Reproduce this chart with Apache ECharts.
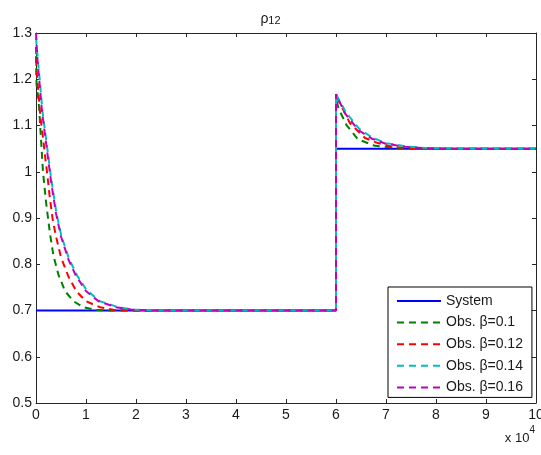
<!DOCTYPE html>
<html>
<head>
<meta charset="utf-8">
<script src="https://cdn.jsdelivr.net/npm/echarts@6/dist/echarts.min.js"></script>
<style>html,body{margin:0;padding:0;background:#fff;overflow:hidden}#c{width:541px;height:455px}</style>
</head>
<body>
<div id="c"></div>
<script>
// x values in units of 1e4
const xTicks = [0,1,2,3,4,5,6,7,8,9,10];
const yTicks = [0.5,0.6,0.7,0.8,0.9,1,1.1,1.2,1.3];
const seriesNames = ['System','Obs. β=0.1','Obs. β=0.12','Obs. β=0.14','Obs. β=0.16'];
const system = [[0,0.7],[6,0.7],[6,1.05],[10,1.05]];
const obs010 = [[0,1.25],[0.01,1.19],[0.05,1.155],[0.07,1.125],[0.1,1.07],[0.14,1.0],[0.2,0.935],[0.24,0.9],[0.28,0.866],[0.35,0.818],[0.45,0.777],[0.58,0.742],[0.75,0.72],[0.95,0.707],[1.2,0.701],[1.5,0.7],[6,0.7],[6,1.16],[6.05,1.137],[6.21,1.101],[6.44,1.07],[6.78,1.056],[7.24,1.051],[7.6,1.05],[10,1.05]];
const obs012 = [[0,1.27],[0.01,1.22],[0.05,1.17],[0.09,1.116],[0.15,1.065],[0.18,1.035],[0.22,1.0],[0.27,0.95],[0.33,0.9],[0.39,0.865],[0.5,0.815],[0.65,0.773],[0.81,0.741],[1.0,0.72],[1.28,0.707],[1.57,0.701],[2.0,0.7],[6,0.7],[6,1.165],[6.28,1.105],[6.58,1.073],[6.84,1.062],[7.12,1.054],[7.5,1.051],[8,1.05],[10,1.05]];
const obs014 = [[0,1.29],[0.04,1.24],[0.09,1.18],[0.13,1.13],[0.19,1.08],[0.25,1.03],[0.31,0.98],[0.41,0.91],[0.51,0.86],[0.66,0.812],[0.82,0.776],[1.02,0.743],[1.28,0.72],[1.65,0.707],[1.95,0.702],[2.4,0.7],[6,0.7],[6,1.168],[6.2,1.128],[6.47,1.092],[6.74,1.073],[7.0,1.062],[7.4,1.055],[7.85,1.051],[8.4,1.05],[10,1.05]];
const obs016 = [[0,1.3],[0.03,1.24],[0.08,1.18],[0.12,1.13],[0.18,1.08],[0.24,1.03],[0.3,0.98],[0.4,0.91],[0.5,0.86],[0.65,0.81],[0.8,0.775],[1.0,0.742],[1.25,0.72],[1.6,0.707],[1.9,0.702],[2.3,0.7],[6,0.7],[6,1.168],[6.18,1.126],[6.45,1.09],[6.71,1.072],[6.98,1.061],[7.38,1.054],[7.8,1.051],[8.3,1.05],[10,1.05]];
const colors = ['#0000ff','#008000','#ff0000','#00bfbf','#bf00bf'];
const allData = [system, obs010, obs012, obs014, obs016];

const chart = echarts.init(document.getElementById('c'), null, {renderer:'canvas', width:541, height:455});
const font = 'Liberation Sans, Arial, sans-serif';
const axisColor = '#262626';
function xAx(pos, show){
  return {type:'value', position:pos, min:xTicks[0], max:xTicks[xTicks.length-1], interval:1,
    axisLine:{show:true, onZero:false, lineStyle:{color:axisColor,width:1}},
    axisTick:{show:true, inside:true, length:4, lineStyle:{color:axisColor}},
    axisLabel:{show:show, color:'#1a1a1a', fontSize:14, fontFamily:font, margin:5},
    splitLine:{show:false}};
}
function yAx(pos, show){
  return {type:'value', position:pos, min:yTicks[0], max:yTicks[yTicks.length-1], interval:0.1,
    axisLine:{show:true, onZero:false, lineStyle:{color:axisColor,width:1}},
    axisTick:{show:true, inside:true, length:4, lineStyle:{color:axisColor}},
    axisLabel:{show:show, color:'#1a1a1a', fontSize:14, fontFamily:font, margin:4,
      formatter:v=>String(Math.round(v*10)/10)},
    splitLine:{show:false}};
}
const series = seriesNames.map((n,i)=>({
  name:n, type:'line', data:allData[i], xAxisIndex:0, yAxisIndex:0,
  symbol:'none', showSymbol:false, animation:false, z:2+i,
  lineStyle:{color:colors[i], width:2, type: i===0 ? 'solid' : [7,5]},
  itemStyle:{color:colors[i]}
}));
chart.setOption({
  animation:false,
  backgroundColor:'#fff',
  title:{text:'{a|ρ}{b|12}', left:'center', top:4, textStyle:{fontWeight:'normal', rich:{
    a:{fontSize:14, fontWeight:'normal', fontFamily:font, color:'#1a1a1a', verticalAlign:'bottom'},
    b:{fontSize:11, fontWeight:'normal', fontFamily:font, color:'#1a1a1a', padding:[6,0,0,0], verticalAlign:'bottom'}}}},
  grid:{left:36, top:33, width:500, height:370, outerBoundsMode:'none', containLabel:false},
  xAxis:[xAx('bottom',true), xAx('top',false)],
  yAxis:[yAx('left',true), yAx('right',false)],
  legend:{orient:'vertical', left:388, top:287,
    padding:[7,9,3,8], itemGap:7.6, itemWidth:44, itemHeight:14,
    backgroundColor:'#fff', borderColor:'#000', borderWidth:1,
    itemStyle:{opacity:0},
    textStyle:{fontSize:14, fontFamily:font, color:'#1a1a1a'},
    data:seriesNames,
    selectedMode:false},
  graphic:[{type:'text', right:6, top:425, style:{
    text:'{a|x 10}{b|4}', rich:{a:{fontSize:13, fontFamily:font, fill:'#1a1a1a', verticalAlign:'bottom'},
      b:{fontSize:10, fontFamily:font, fill:'#1a1a1a', padding:[0,0,10,0], verticalAlign:'bottom'}}}}],
  series: series
});
</script>
</body>
</html>
